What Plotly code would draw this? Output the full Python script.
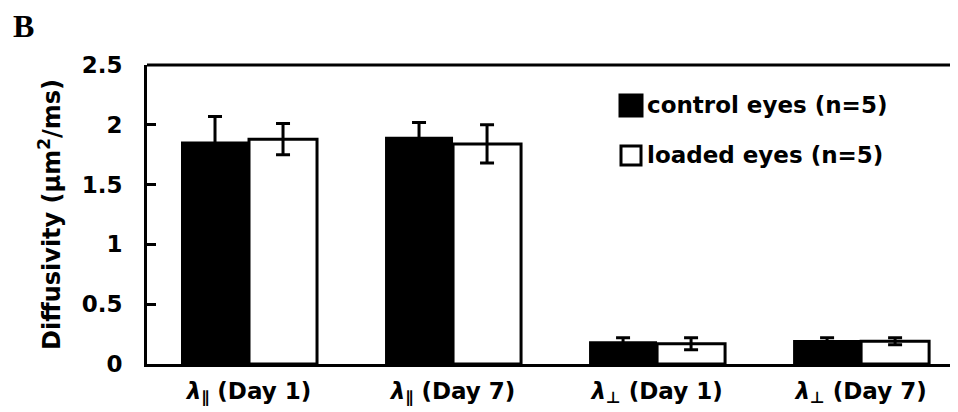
import plotly.graph_objects as go

categories = ["<i>λ</i><sub>∥</sub> (Day 1)", "<i>λ</i><sub>∥</sub> (Day 7)",
              "<i>λ</i><sub>⊥</sub> (Day 1)", "<i>λ</i><sub>⊥</sub> (Day 7)"]
control_vals = [1.86, 1.90, 0.19, 0.20]
control_err = [0.21, 0.12, 0.03, 0.02]
loaded_vals = [1.88, 1.84, 0.17, 0.19]
loaded_err = [0.13, 0.16, 0.05, 0.03]
ytick_vals = [0, 0.5, 1, 1.5, 2, 2.5]
ytick_text = ["0", "0.5", "1", "1.5", "2", "2.5"]
legend_names = ["control eyes (n=5)", "loaded eyes (n=5)"]

FONT = "DejaVu Sans"
OFF = 8  # default page body margin in the browser
W, H = 958 - OFF, 412 - OFF
L, R, T, B = 147 - OFF, 0, 65 - OFF, 48
pw, ph = W - L - R, H - T - B

def px(x):
    return (x - OFF - L) / pw

def py(y):
    return 1 - (y - OFF - T) / ph

fig = go.Figure()
fig.add_trace(go.Bar(
    x=categories, y=control_vals, name=legend_names[0],
    marker=dict(color="black", line=dict(color="black", width=0)),
    error_y=dict(type="data", array=control_err, color="black", thickness=3, width=7),
    showlegend=False,
))
fig.add_trace(go.Bar(
    x=categories, y=loaded_vals, name=legend_names[1],
    marker=dict(color="white", line=dict(color="black", width=3)),
    error_y=dict(type="data", array=loaded_err, color="black", thickness=3, width=7),
    showlegend=False,
))

# manual legend
sq = [(620, 95, 642, 116, "black"), (621, 146, 641, 165, "white")]
for (x0, y0, x1, y1, c) in sq:
    fig.add_shape(type="rect", xref="paper", yref="paper",
                  x0=px(x0), x1=px(x1), y0=py(y1), y1=py(y0),
                  fillcolor=c, line=dict(color="black", width=3))
for name, yc in zip(legend_names, [105, 155]):
    fig.add_annotation(text=name, xref="paper", yref="paper", x=px(645), y=py(yc),
                       xanchor="left", yanchor="middle", showarrow=False,
                       font=dict(family=FONT, size=23, color="black", weight="bold"))

# top border
fig.add_shape(type="line", xref="paper", yref="paper", x0=0, x1=1, y0=1, y1=1,
              line=dict(color="black", width=3))

# panel label
fig.add_annotation(text="B", xref="paper", yref="paper", x=px(11), y=py(6),
                   xanchor="left", yanchor="top", showarrow=False,
                   font=dict(family="Liberation Serif", size=32, color="black", weight="bold"))

fig.update_layout(
    width=W, height=H,
    margin=dict(l=L, r=R, t=T, b=B, pad=0),
    paper_bgcolor="white", plot_bgcolor="white",
    barmode="group", bargap=1/3, bargroupgap=0,
    font=dict(family=FONT, size=23, color="black", weight="bold"),
    xaxis=dict(range=[-0.5, 3.475], showline=True, linecolor="black", linewidth=3,
               ticks="", showgrid=False, zeroline=False,
               tickfont=dict(family=FONT, size=23, color="black", weight="bold"),
               ticklabelstandoff=4),
    yaxis=dict(range=[0, 2.5], tickvals=ytick_vals, ticktext=ytick_text,
               showline=True, linecolor="black", linewidth=3,
               ticks="inside", ticklen=9, tickwidth=3, tickcolor="black",
               showgrid=False, zeroline=False,
               tickfont=dict(family=FONT, size=23, color="black", weight="bold"),
               ticklabelstandoff=17,
               title=dict(text="Diffusivity (μm<sup>2</sup>/ms)", standoff=15,
                          font=dict(family=FONT, size=24, color="black", weight="bold"))),
)

fig.write_html("out.html")
